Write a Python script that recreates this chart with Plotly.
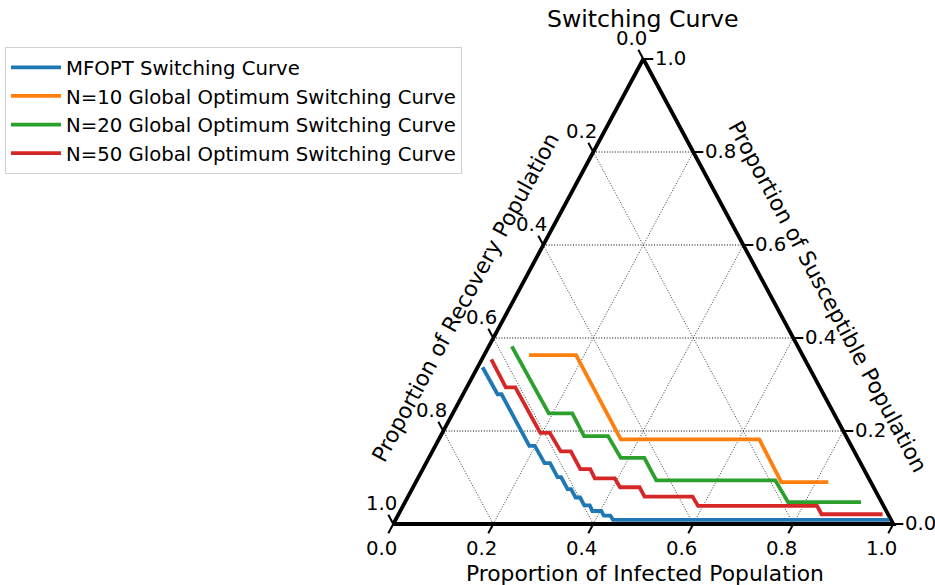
import plotly.graph_objects as go

# ---------------- data (proportions) ----------------
series_names = [
    "MFOPT Switching Curve",
    "N=10 Global Optimum Switching Curve",
    "N=20 Global Optimum Switching Curve",
    "N=50 Global Optimum Switching Curve",
]
series_colors = ["#1f77b4", "#ff7f0e", "#2ca02c", "#d62728"]

mfopt_infected = [0.010, 0.069, 0.077, 0.188, 0.199, 0.237, 0.248, 0.278, 0.285, 0.311, 0.318,
                  0.336, 0.345, 0.362, 0.373, 0.384, 0.402, 0.412, 0.425, 0.435, 0.987]
mfopt_susceptible = [0.337, 0.279, 0.279, 0.168, 0.168, 0.131, 0.131, 0.101, 0.101, 0.075, 0.075,
                     0.057, 0.057, 0.040, 0.040, 0.028, 0.028, 0.018, 0.018, 0.009, 0.009]

n10_infected = [0.090, 0.184, 0.364, 0.641, 0.731, 0.825]
n10_susceptible = [0.363, 0.363, 0.182, 0.182, 0.090, 0.090]

n20_infected = [0.046, 0.192, 0.239, 0.287, 0.335, 0.384, 0.431, 0.479, 0.717, 0.766, 0.912]
n20_susceptible = [0.382, 0.238, 0.238, 0.189, 0.189, 0.142, 0.142, 0.094, 0.094, 0.047, 0.047]

n50_infected = [0.019, 0.078, 0.097, 0.196, 0.215, 0.257, 0.277, 0.315, 0.335, 0.354, 0.394,
                0.414, 0.453, 0.473, 0.569, 0.590, 0.828, 0.846, 0.968]
n50_susceptible = [0.354, 0.294, 0.294, 0.196, 0.196, 0.156, 0.156, 0.118, 0.118, 0.098, 0.098,
                   0.079, 0.079, 0.059, 0.059, 0.039, 0.039, 0.021, 0.021]

tick_values = [0.0, 0.2, 0.4, 0.6, 0.8, 1.0]
tick_labels = ["0.0", "0.2", "0.4", "0.6", "0.8", "1.0"]
grid_values = [0.2, 0.4, 0.6, 0.8]

chart_title = "Switching Curve"
bottom_title = "Proportion of Infected Population"
left_title = "Proportion of Recovery Population"
right_title = "Proportion of Susceptible Population"

# ---------------- geometry ----------------
W, H = 935, 585
X0, Y0 = 393.3, 524.0      # pixel of the bottom-left vertex
SX, SY = 500.0, 465.0      # pixels per unit along x / y
FONT = "DejaVu Sans"
TICK_OFF = 0.02


def proj(infected, susceptible):
    """Ternary (infected, susceptible, recovered=1-i-s) -> cartesian."""
    xs, ys = [], []
    for i, s in zip(infected, susceptible):
        if i is None:
            xs.append(None); ys.append(None)
        else:
            xs.append(i + s / 2.0); ys.append(s)
    return xs, ys


def px(xpix, ypix):
    return (xpix - X0) / SX, (Y0 - ypix) / SY


def shift(i, s, dxp, dyp):
    x = i + s / 2.0 + dxp / SX
    y = s - dyp / SY
    return x, y


fig = go.Figure()

# ---- grid lines ----
hi, hs = [], []
for s in grid_values:          # constant susceptible (horizontal)
    hi += [0.0, 1 - s, None]; hs += [s, s, None]
x, y = proj(hi, hs)
fig.add_trace(go.Scatter(x=x, y=y, mode="lines", showlegend=False, hoverinfo="skip",
                         line=dict(color="black", width=1.0, dash="1px,1.7px")))
di, ds = [], []
for v in grid_values:
    di += [v, v, None]; ds += [0.0, 1 - v, None]          # constant infected
    di += [1 - v, 0.0, None]; ds += [0.0, 1 - v, None]    # constant recovered
x, y = proj(di, ds)
fig.add_trace(go.Scatter(x=x, y=y, mode="lines", showlegend=False, hoverinfo="skip",
                         line=dict(color="#3a3a3a", width=1.0, dash="1px,1.7px")))

# ---- ticks ----
ti, ts = [], []
for v in tick_values:
    ti += [v, v, None]; ts += [0.0, -TICK_OFF, None]                      # bottom (infected)
    ti += [1 - v, 1 - v + TICK_OFF, None]; ts += [v, v, None]             # right (susceptible)
    ti += [0.0, -TICK_OFF, None]; ts += [1 - v, 1 - v + TICK_OFF, None]   # left (recovered)
x, y = proj(ti, ts)
fig.add_trace(go.Scatter(x=x, y=y, mode="lines", showlegend=False, hoverinfo="skip",
                         line=dict(color="black", width=2.0)))

# ---- boundary ----
x, y = proj([0.0, 1.0, 0.0, 0.0], [0.0, 0.0, 1.0, 0.0])
fig.add_trace(go.Scatter(x=x, y=y, mode="lines", showlegend=False, hoverinfo="skip",
                         line=dict(color="black", width=3.8)))

# ---- curves ----
curves = [(mfopt_infected, mfopt_susceptible), (n10_infected, n10_susceptible),
          (n20_infected, n20_susceptible), (n50_infected, n50_susceptible)]
for (ci, cs), name, col in zip(curves, series_names, series_colors):
    x, y = proj(ci, cs)
    rec = [round(1 - a - b, 3) for a, b in zip(ci, cs)]
    fig.add_trace(go.Scatter(x=x, y=y, mode="lines", name=name, customdata=rec,
                             line=dict(color=col, width=3.8)))

# ---- annotations ----
ann = []
tf = dict(family=FONT, size=19.7, color="black")
for v, lab in zip(tick_values, tick_labels):
    bx, by = shift(v, 0.0, -12, 24.5)
    ann.append(dict(x=bx, y=by, text=lab, showarrow=False, font=tf, borderpad=0,
                    xanchor="center", yanchor="middle"))
    rx, ry = shift(1 - v, v, 10.5, -1)
    ann.append(dict(x=rx, y=ry, text=lab, showarrow=False, font=tf, borderpad=0,
                    xanchor="left", yanchor="middle"))
    lx, ly = shift(0.0, 1 - v, -12, -20.5)
    ann.append(dict(x=lx, y=ly, text=lab, showarrow=False, font=tf, borderpad=0,
                    xanchor="center", yanchor="middle"))

tx, ty = px(643.3, 19.0)
ann.append(dict(x=tx, y=ty, text=chart_title, showarrow=False, borderpad=0,
                font=dict(family=FONT, size=23.6, color="black"), xanchor="center", yanchor="middle"))
af = dict(family=FONT, size=21.8, color="black")
bx, by = px(644.5, 573.0)
ann.append(dict(x=bx, y=by, text=bottom_title, showarrow=False, font=af, borderpad=0,
                xanchor="center", yanchor="middle"))
lx, ly = px(465, 297)
ann.append(dict(x=lx, y=ly, text=left_title, showarrow=False, font=af, textangle=-61.74,
                borderpad=0, xanchor="center", yanchor="middle"))
rx, ry = px(828, 296)
ann.append(dict(x=rx, y=ry, text=right_title, showarrow=False, font=af, textangle=61.74,
                borderpad=0, xanchor="center", yanchor="middle"))

fig.update_layout(
    width=W, height=H,
    margin=dict(l=0, r=0, t=0, b=0, pad=0),
    paper_bgcolor="white", plot_bgcolor="white",
    xaxis=dict(range=[-X0 / SX, (W - X0) / SX], visible=False, fixedrange=True),
    yaxis=dict(range=[-(H - Y0) / SY, Y0 / SY], visible=False, fixedrange=True),
    annotations=ann,
    showlegend=True,
    legend=dict(x=5 / W, y=1 - 47 / H, xanchor="left", yanchor="top",
                bgcolor="white", bordercolor="#d0d0d0", borderwidth=1,
                itemwidth=50,
                font=dict(family=FONT, size=19.7, color="black")),
)

fig.write_html("out.html")
